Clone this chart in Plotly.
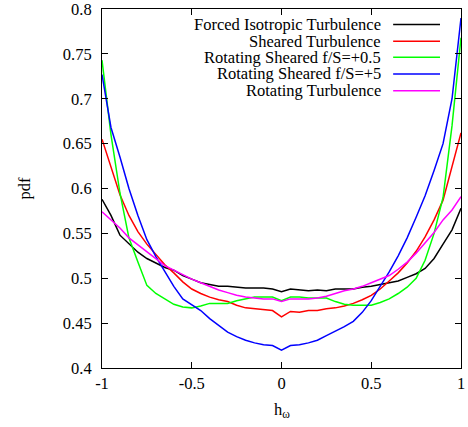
import plotly.graph_objects as go

h = [round(-1 + 0.05 * i, 2) for i in range(41)]

forced_iso = [0.588, 0.570, 0.548, 0.538, 0.529, 0.522, 0.517, 0.512, 0.509, 0.503,
              0.499, 0.495, 0.493, 0.491, 0.491, 0.490, 0.489, 0.489, 0.489, 0.488,
              0.485, 0.488, 0.487, 0.486, 0.487, 0.486, 0.488, 0.488, 0.488, 0.490,
              0.491, 0.493, 0.495, 0.497, 0.501, 0.505, 0.511, 0.522, 0.538, 0.554, 0.578]
sheared = [0.655, 0.623, 0.593, 0.570, 0.552, 0.538, 0.526, 0.515, 0.506, 0.496,
           0.488, 0.483, 0.479, 0.476, 0.474, 0.470, 0.467, 0.466, 0.465, 0.464,
           0.457, 0.463, 0.462, 0.464, 0.464, 0.466, 0.467, 0.469, 0.472, 0.476,
           0.481, 0.488, 0.497, 0.506, 0.517, 0.530, 0.546, 0.565, 0.587, 0.625, 0.662]
rot_sh_05 = [0.743, 0.660, 0.595, 0.545, 0.518, 0.492, 0.483, 0.477, 0.471, 0.468,
             0.467, 0.469, 0.472, 0.472, 0.472, 0.475, 0.477, 0.479, 0.479, 0.479,
             0.475, 0.479, 0.479, 0.478, 0.478, 0.478, 0.474, 0.471, 0.470, 0.470,
             0.470, 0.473, 0.477, 0.483, 0.490, 0.500, 0.520, 0.550, 0.590, 0.670, 0.768]
rot_sh_5 = [0.727, 0.668, 0.635, 0.600, 0.570, 0.543, 0.524, 0.507, 0.491, 0.477,
            0.470, 0.464, 0.455, 0.447, 0.440, 0.435, 0.431, 0.428, 0.426, 0.425,
            0.420, 0.425, 0.426, 0.428, 0.431, 0.436, 0.441, 0.446, 0.452, 0.462,
            0.475, 0.491, 0.507, 0.525, 0.545, 0.568, 0.592, 0.620, 0.650, 0.700, 0.790]
rotating = [0.574, 0.565, 0.556, 0.545, 0.537, 0.529, 0.522, 0.514, 0.509, 0.504,
            0.499, 0.495, 0.491, 0.487, 0.484, 0.481, 0.479, 0.478, 0.477, 0.477,
            0.474, 0.477, 0.477, 0.477, 0.478, 0.480, 0.483, 0.486, 0.488, 0.491,
            0.495, 0.499, 0.503, 0.510, 0.518, 0.528, 0.539, 0.551, 0.565, 0.576, 0.591]

names = ["Forced Isotropic Turbulence", "Sheared Turbulence",
         "Rotating Sheared f/S=+0.5", "Rotating Sheared f/S=+5",
         "Rotating Turbulence"]
series = [forced_iso, sheared, rot_sh_05, rot_sh_5, rotating]
colors = ["#000000", "#ff0000", "#00ff00", "#0000ff", "#ff00ff"]

x_ticks = [-1, -0.5, 0, 0.5, 1]
y_ticks = [0.4, 0.45, 0.5, 0.55, 0.6, 0.65, 0.7, 0.75, 0.8]

FONT = "Liberation Serif"
FS = 16.5

fig = go.Figure()
for n, s, c in zip(names, series, colors):
    fig.add_trace(go.Scatter(x=h, y=s, mode="lines", name=n,
                             line=dict(color=c, width=1.5), showlegend=False,
                             cliponaxis=False))

# gnuplot-style key: right-aligned text, sample line to the right
row_y = [0.957, 0.910, 0.8655, 0.819, 0.7724]
for n, c, yy in zip(names, colors, row_y):
    fig.add_annotation(x=0.782, y=yy, xref="paper", yref="paper", text=n,
                       showarrow=False, xanchor="right", yanchor="middle",
                       font=dict(family=FONT, size=FS, color="black"))
    fig.add_shape(type="line", xref="paper", yref="paper",
                  x0=0.811, x1=0.9415, y0=yy, y1=yy,
                  line=dict(color=c, width=1.5))

# axis titles
fig.add_annotation(x=0.5, y=-0.117, xref="paper", yref="paper", text="h<sub>ω</sub>",
                   showarrow=False, xanchor="center", yanchor="middle",
                   font=dict(family=FONT, size=FS, color="black"))
fig.add_annotation(x=-0.217, y=0.5, xref="paper", yref="paper", text="pdf",
                   showarrow=False, xanchor="center", yanchor="middle", textangle=-90,
                   font=dict(family=FONT, size=FS, color="black"))

fig.update_layout(
    template="none",
    width=468, height=427,
    margin=dict(l=102, r=7, t=9, b=59),
    paper_bgcolor="white", plot_bgcolor="white",
    font=dict(family=FONT, size=FS, color="black"),
    xaxis=dict(range=[-1, 1], tickvals=x_ticks, ticktext=[f"{v:g}" for v in x_ticks],
               ticks="inside", ticklen=6, tickcolor="black", showline=True,
               linecolor="black", linewidth=1, mirror="ticks", showgrid=False,
               zeroline=False, automargin=False, ticklabelstandoff=0,
               ticklabeloverflow="allow"),
    yaxis=dict(range=[0.4, 0.8], tickvals=y_ticks, ticktext=[f"{v:g}" for v in y_ticks],
               ticks="inside", ticklen=6, tickcolor="black", showline=True,
               linecolor="black", linewidth=1, mirror="ticks", showgrid=False,
               zeroline=False, automargin=False, ticklabelstandoff=6,
               ticklabeloverflow="allow"),
)

fig.write_html("out.html", config={"displayModeBar": False},
               post_script="document.body.style.margin='0';document.body.style.overflow='hidden';")
